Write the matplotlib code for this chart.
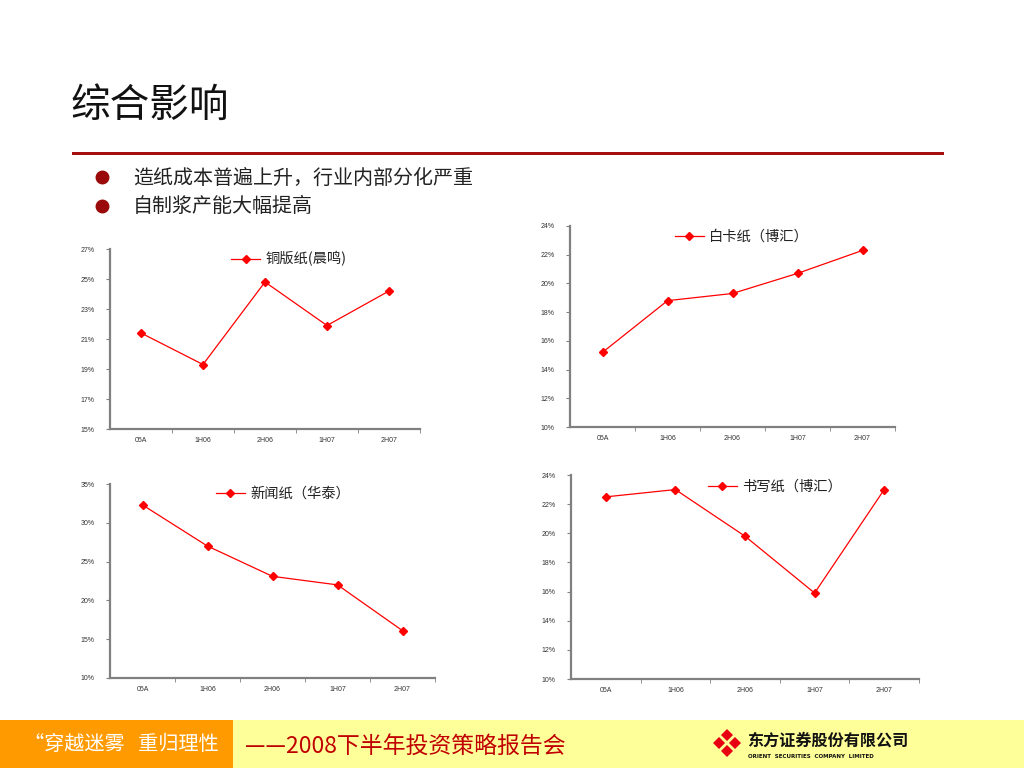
import matplotlib
matplotlib.use('Agg')
import matplotlib.pyplot as plt
from matplotlib.patches import Rectangle, Polygon
from matplotlib.ticker import FixedLocator, FuncFormatter

plt.rcParams['font.family'] = ['Noto Sans CJK SC', 'DejaVu Sans']

W, H = 1024, 768

categories = ['05A', '1H06', '2H06', '1H07', '2H07']

coated = [21.4, 19.3, 24.8, 21.9, 24.2]        # 铜版纸(晨鸣)
whitecard = [15.2, 18.8, 19.3, 20.7, 22.3]     # 白卡纸（博汇）
newsprint = [32.3, 27.0, 23.1, 22.0, 16.1]     # 新闻纸（华泰）
writing = [22.5, 23.0, 19.8, 15.9, 23.0]       # 书写纸（博汇）

labels = ['铜版纸(晨鸣)', '白卡纸（博汇）', '新闻纸（华泰）', '书写纸（博汇）']
yticks = [list(range(15, 28, 2)), list(range(10, 25, 2)),
          list(range(10, 36, 5)), list(range(10, 25, 2))]

fig = plt.figure(figsize=(W / 100, H / 100), dpi=100)
fig.patch.set_facecolor('white')


def px_axes(left, top, right, bottom):
    return fig.add_axes([left / W, 1 - bottom / H, (right - left) / W, (bottom - top) / H])


def fx(x):
    return x / W


def fy(y):
    return 1 - y / H


# title and rule
fig.text(fx(70), fy(106), '综合影响', fontsize=28.5, va='center', ha='left', color='#111111')
fig.add_artist(Rectangle((fx(72), fy(155)), fx(944 - 72), 3 / H, transform=fig.transFigure,
                         color='#A50F0F', lw=0))

bullets = ['造纸成本普遍上升，行业内部分化严重', '自制浆产能大幅提高']
for i, b in enumerate(bullets):
    y = 177 + i * 29
    fig.add_artist(plt.Line2D([fx(102)], [fy(y)], transform=fig.transFigure, marker='o',
                              markersize=9, color='#9B0A0A', lw=0))
    fig.text(fx(133), fy(y + 1), b, fontsize=14.4, va='center', ha='left', color='#222222')

# charts
boxes = [(110, 249, 420, 429), (570, 226, 895, 427), (110, 484, 435, 678), (571, 475, 919, 679)]
legend_pos = [(289, 259), (742, 237), (283, 494), (775, 487)]
series = [coated, whitecard, newsprint, writing]

for box, vals, lab, yt, lp in zip(boxes, series, labels, yticks, legend_pos):
    ax = px_axes(*box)
    x = list(range(len(categories)))
    ax.plot(x, vals, color='#FF0000', lw=0.9, marker='D', markersize=4,
            markerfacecolor='#FF0000', markeredgecolor='#FF0000', label=lab)
    ax.set_xlim(-0.5, len(categories) - 0.5)
    ax.set_ylim(yt[0], yt[-1])
    ax.set_yticks(yt)
    ax.yaxis.set_major_formatter(FuncFormatter(lambda v, p: f'{v:.0f}%'))
    ax.set_xticks(x)
    ax.set_xticklabels(categories)
    ax.xaxis.set_minor_locator(FixedLocator([i + 0.5 for i in range(len(categories))]))
    ax.tick_params(axis='x', which='major', length=0, pad=6, labelsize=5, labelcolor='#333333')
    ax.tick_params(axis='x', which='minor', length=3, direction='out', color='#808080')
    ax.tick_params(axis='y', which='major', length=3, direction='out', color='#808080',
                   labelsize=5, labelcolor='#333333', pad=8)
    for t in ax.get_xticklabels() + ax.get_yticklabels():
        t.set_family('Liberation Sans')
    for s in ['top', 'right']:
        ax.spines[s].set_visible(False)
    for s in ['left', 'bottom']:
        ax.spines[s].set_color('#808080')
        ax.spines[s].set_linewidth(1.6)
    ax.set_facecolor('none')
    ax.legend(loc='center', bbox_to_anchor=(fx(lp[0]), fy(lp[1])), bbox_transform=fig.transFigure,
              frameon=False, fontsize=10.3, handlelength=2.0, handletextpad=0.4, borderpad=0,
              labelcolor='#222222')

# footer
fig.add_artist(Rectangle((0, 0), fx(233), fy(720), transform=fig.transFigure,
                         color='#FF9A00', lw=0))
fig.add_artist(Rectangle((fx(233), 0), 1 - fx(233), fy(720), transform=fig.transFigure,
                         color='#FFFF99', lw=0))
fig.text(fx(24), fy(745), '“穿越迷雾   重归理性', fontsize=14.5, color='white', va='center', ha='left')
fig.text(fx(245), fy(746), '——2008下半年投资策略报告会', fontsize=16.5, color='#C00000',
         va='center', ha='left')

# logo
cx, cy, r = 727, 743, 14
fig.add_artist(Polygon([(fx(cx), fy(cy - r)), (fx(cx + r), fy(cy)), (fx(cx), fy(cy + r)),
                        (fx(cx - r), fy(cy))], closed=True, transform=fig.transFigure,
                       color='#E60012', lw=0))
fig.add_artist(plt.Line2D([fx(cx - 8), fx(cx + 8)], [fy(cy - 8), fy(cy + 8)],
                          transform=fig.transFigure, color='#FFFF99', lw=2))
fig.add_artist(plt.Line2D([fx(cx - 8), fx(cx + 8)], [fy(cy + 8), fy(cy - 8)],
                          transform=fig.transFigure, color='#FFFF99', lw=2))
fig.text(fx(747), fy(741), '东方证券股份有限公司', fontsize=11.6, fontweight='bold', color='#111111',
         va='center', ha='left')
fig.text(fx(748), fy(756), 'ORIENT  SECURITIES  COMPANY  LIMITED', fontsize=4, fontweight='bold',
         color='#111111', va='center', ha='left', family='DejaVu Sans')

fig.savefig('out.png', dpi=100, facecolor='white')
